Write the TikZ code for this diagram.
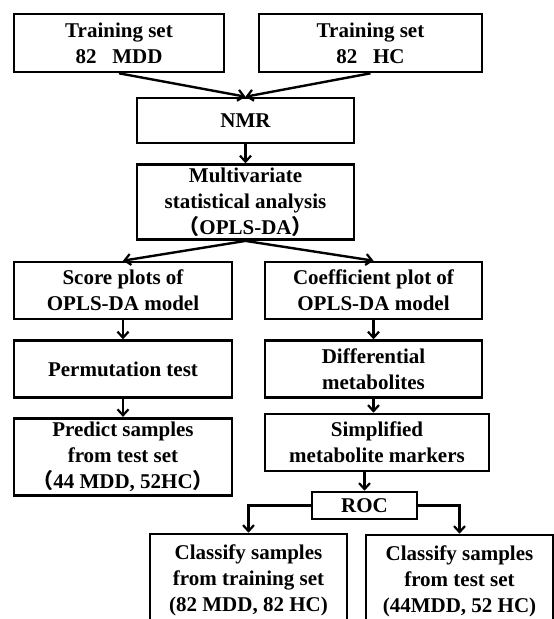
\documentclass[tikz,border=0pt]{standalone}
\usepackage{fontspec}
\setmainfont{Liberation Serif}
\newfontfamily\cjk{Noto Sans CJK SC}
\usepackage{tikz}
\usetikzlibrary{arrows.meta, positioning, calc}

\newcommand{\lpar}{{\cjk （}}
\newcommand{\rpar}{{\cjk ）}}

\begin{document}
\begin{tikzpicture}[x=1pt, y=-1pt, >={Straight Barb[length=6pt,width=11pt,line width=2.2pt]},
    box/.style={rectangle, draw, line width=2.6pt, align=center, inner sep=1pt,
                font=\bfseries\fontsize{21}{26}\selectfont},
    link/.style={->, line width=2.4pt}]
    \useasboundingbox (0,0) rectangle (554,619);
    \clip (0,0) rectangle (554,619);

    % training sets
    \node (tsMDD) [box, minimum width=210pt, minimum height=58pt] at (119,43) {Training set\\82~~~MDD};
    \node (tsHC) [box, minimum width=223pt, minimum height=58pt] at (370.5,43) {Training set\\82~~~HC};

    \node (nmr) [box, minimum width=217pt, minimum height=45pt] at (245.5,120.5) {NMR};
    \node (mva) [box, minimum width=217pt, minimum height=75pt, below=19pt of nmr] {Multivariate\\statistical analysis\\\lpar OPLS-DA\rpar};

    % left branch
    \node (score) [box, minimum width=218pt, minimum height=57pt] at (123,290.5) {Score plots of\\OPLS-DA model};
    \node (perm) [box, minimum width=218pt, minimum height=57pt, below=19pt of score] {Permutation test};
    \node (predict) [box, minimum width=218pt, minimum height=77pt, below=18pt of perm] {Predict samples\\from test set\\\lpar 44 MDD, 52HC\rpar};

    % right branch
    \node (coef) [box, minimum width=217pt, minimum height=57pt] at (373.5,290.5) {Coefficient plot of\\OPLS-DA model};
    \node (diff) [box, minimum width=217pt, minimum height=57pt, below=19pt of coef] {Differential\\metabolites};
    \node (simp) [box, minimum width=224pt, minimum height=57pt] at (377,442.5) {Simplified\\metabolite markers};
    \node (roc) [box, minimum width=105pt, minimum height=27pt] at (364.5,505.5) {ROC};

    \node (clsTrain) [box, minimum width=197pt, minimum height=92pt] at (248.5,580) {Classify samples\\from training set\\(82 MDD, 82 HC)};
    \node (clsTest) [box, minimum width=187pt, minimum height=92pt] at (459.5,581) {Classify samples\\from test set\\(44MDD, 52 HC)};

    \draw[link] (tsMDD.south) -- (nmr.north);
    \draw[link] (tsHC.south) -- (nmr.north);
    \draw[link] (nmr) -- (mva);
    \draw[link] (mva.south) -- (score.north);
    \draw[link] (mva.south) -- (coef.north);
    \draw[link] (score) -- (perm);
    \draw[link] (perm) -- (predict);
    \draw[link] (coef) -- (diff);
    \draw[link] (diff) -- (diff |- simp.north);
    \draw[link] (simp.south -| roc.north) -- (roc.north);
    \draw[link] (roc.west) -| (clsTrain.north);
    \draw[link] (roc.east) -| (clsTest.north);
\end{tikzpicture}
\end{document}
